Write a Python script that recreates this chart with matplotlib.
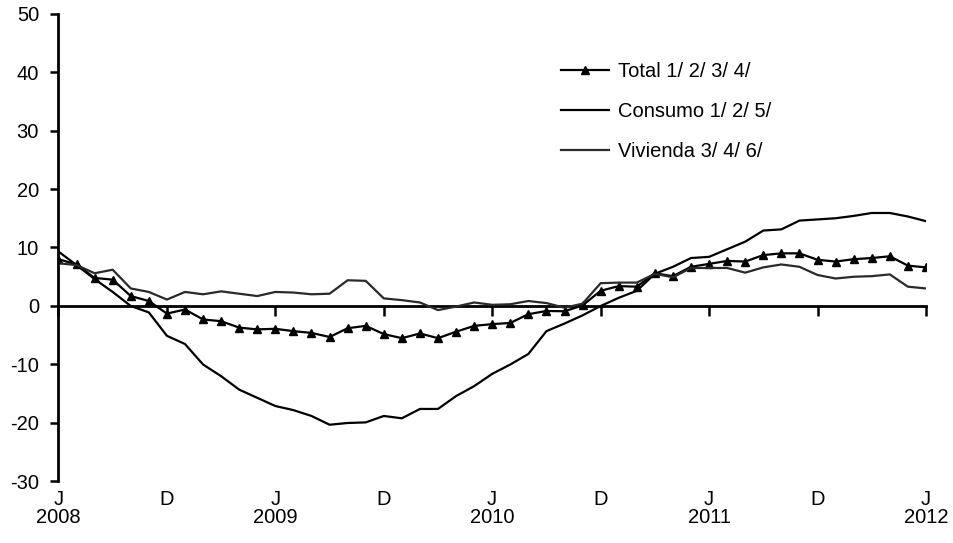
import matplotlib
matplotlib.use("Agg")
import matplotlib.pyplot as plt
import matplotlib.transforms as mtransforms
import numpy as np

plt.rcParams['font.family'] = ['Liberation Sans', 'DejaVu Sans']

# Monthly, June 2008 .. June 2012 (49 months)
total = [8.0, 7.1, 4.8, 4.5, 1.7, 0.85, -1.3, -0.6, -2.3, -2.6, -3.7, -4.0, -3.9,
         -4.3, -4.6, -5.3, -3.8, -3.4, -4.8, -5.5, -4.7, -5.5, -4.4, -3.4, -3.1,
         -2.9, -1.4, -0.85, -0.9, 0.1, 2.6, 3.4, 3.3, 5.6, 5.1, 6.7, 7.2, 7.7,
         7.6, 8.7, 9.0, 9.0, 7.9, 7.6, 8.0, 8.2, 8.5, 6.9, 6.6]
consumo = [9.3, 7.0, 4.6, 2.4, 0.0, -1.1, -5.1, -6.5, -10.0, -12.0, -14.3, -15.7,
           -17.1, -17.8, -18.8, -20.3, -20.0, -19.9, -18.8, -19.2, -17.6, -17.6,
           -15.4, -13.7, -11.6, -10.0, -8.2, -4.3, -3.0, -1.6, 0.0, 1.4, 2.6, 5.5,
           6.7, 8.2, 8.4, 9.7, 11.0, 12.9, 13.1, 14.6, 14.8, 15.0, 15.4, 15.9,
           15.9, 15.3, 14.5]
vivienda = [7.3, 7.0, 5.6, 6.2, 3.0, 2.4, 1.1, 2.4, 2.0, 2.5, 2.1, 1.7, 2.4, 2.3,
            2.0, 2.1, 4.4, 4.3, 1.3, 1.0, 0.6, -0.7, -0.1, 0.6, 0.2, 0.3, 0.85,
            0.5, -0.3, 0.4, 3.9, 4.0, 4.0, 5.5, 4.9, 6.5, 6.5, 6.5, 5.7, 6.6, 7.1,
            6.7, 5.3, 4.7, 5.0, 5.1, 5.4, 3.3, 3.0]

labels_series = ["Total 1/ 2/ 3/ 4/", "Consumo 1/ 2/ 5/", "Vivienda 3/ 4/ 6/"]
tick_months = ["J", "D", "J", "D", "J", "D", "J", "D", "J"]
tick_years = ["2008", "", "2009", "", "2010", "", "2011", "", "2012"]
y_ticks = [-30, -20, -10, 0, 10, 20, 30, 40, 50]

x = np.arange(len(total))

fig = plt.figure(figsize=(9.54, 5.43), dpi=100)
ax = fig.add_axes([0.0613, 0.1133, 0.9093, 0.8618])

ax.plot(x, total, color='black', lw=1.6, marker='^', markersize=5.5,
        label=labels_series[0])
ax.plot(x, consumo, color='black', lw=1.6, label=labels_series[1])
ax.plot(x, vivienda, color='#2a2a2a', lw=1.6, label=labels_series[2])

ax.set_xlim(0, 48)
ax.set_ylim(-30, 50)
ax.set_yticks(y_ticks)
ax.set_yticklabels([str(v) for v in y_ticks], fontsize=14.5)

ax.spines['top'].set_visible(False)
ax.spines['right'].set_visible(False)
ax.spines['bottom'].set_position(('data', 0))
ax.spines['bottom'].set_linewidth(2)
ax.spines['left'].set_linewidth(2)
ax.spines['bottom'].set_zorder(1)

xt = np.arange(0, 49, 6)
ax.set_xticks(xt)
ax.set_xticklabels([])
ax.tick_params(axis='x', direction='out', length=7, width=1.8)
ax.tick_params(axis='y', direction='out', length=6, width=1.8, pad=8)

trans = mtransforms.blended_transform_factory(ax.transData, ax.transAxes)
for xi, m, yr in zip(xt, tick_months, tick_years):
    ax.text(xi, -0.0395, m, transform=trans, ha='center', va='center', fontsize=14.5)
    if yr:
        ax.text(xi, -0.077, yr, transform=trans, ha='center', va='center', fontsize=14.5)

leg = ax.legend(loc='upper left', bbox_to_anchor=(0.558, 0.935), frameon=False,
                fontsize=14.5, handlelength=2.4, labelspacing=1.05,
                handletextpad=0.45)

fig.savefig("out.png", dpi=100)
